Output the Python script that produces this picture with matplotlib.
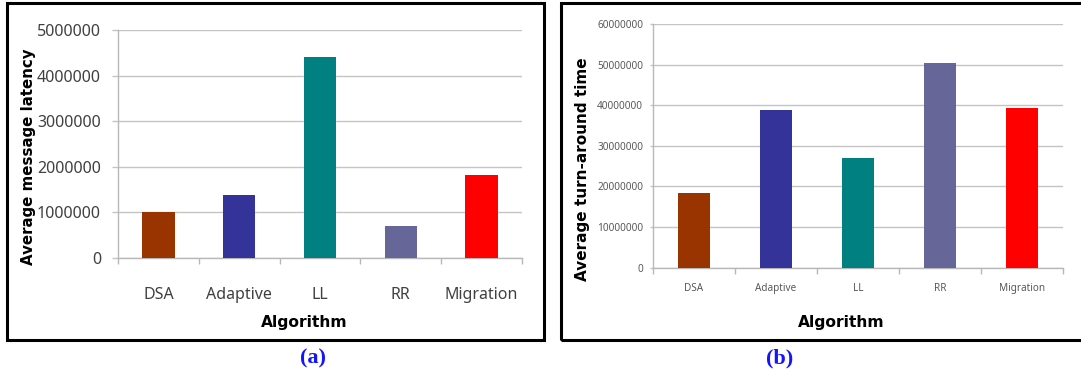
import matplotlib.pyplot as plt
from matplotlib.patches import Rectangle
from matplotlib.ticker import FixedLocator, FuncFormatter

algorithms = ['DSA', 'Adaptive', 'LL', 'RR', 'Migration']
bar_colors = ['#993300', '#333399', '#008080', '#666699', '#ff0000']

msg_latency = [1000000, 1380000, 4410000, 700000, 1810000]
turnaround = [18300000, 38750000, 27100000, 50500000, 39300000]

latency_ticks = [0, 1000000, 2000000, 3000000, 4000000, 5000000]
turnaround_ticks = [0, 10000000, 20000000, 30000000, 40000000, 50000000, 60000000]

W, H = 1081, 372
plt.rcParams['font.family'] = ['Noto Sans', 'DejaVu Sans']
BOLD = ['DejaVu Sans']


def px_box(x0, y0, x1, y1):
    # pixel box (top-left origin) -> figure fraction rect
    return [x0 / W, 1 - y1 / H, (x1 - x0) / W, (y1 - y0) / H]


def bar_panel(ax, values, yticks, tick_size, tick_color, ylen, ypad, xpad):
    x = range(len(values))
    ax.bar(x, values, width=0.4, color=bar_colors, zorder=3)
    ax.set_xlim(-0.5, len(values) - 0.5)
    ax.set_ylim(yticks[0], yticks[-1])
    ax.set_yticks(yticks)
    ax.yaxis.set_major_formatter(FuncFormatter(lambda v, p: '%d' % v))
    ax.grid(axis='y', color='#c4c4c4', lw=1.0, zorder=0)
    for s in ['top', 'right']:
        ax.spines[s].set_visible(False)
    for s in ['left', 'bottom']:
        ax.spines[s].set_color('#b8b8b8')
        ax.spines[s].set_linewidth(1.0)
    ax.set_xticks(list(x))
    ax.set_xticklabels(algorithms)
    ax.xaxis.set_minor_locator(FixedLocator([i - 0.5 for i in range(len(values) + 1)]))
    ax.tick_params(axis='x', which='major', length=0, pad=xpad,
                   labelsize=tick_size, labelcolor=tick_color)
    ax.tick_params(axis='x', which='minor', length=4.5, width=1.0,
                   color='#b8b8b8', direction='out')
    ax.tick_params(axis='y', length=ylen, width=1.0, color='#c4c4c4', pad=ypad,
                   labelsize=tick_size, labelcolor=tick_color)


fig = plt.figure(figsize=(W / 100, H / 100), dpi=100)

# panel (a)
ax1 = fig.add_axes(px_box(118, 30.3, 522, 257.7))
bar_panel(ax1, msg_latency, latency_ticks, 11.5, '#404040', 4.3, 8.0, 21)
fig.text(29 / W, 1 - 157 / H, 'Average message latency', rotation=90,
         ha='center', va='center', fontsize=10.8, fontweight='bold', family=BOLD)
fig.text(304 / W, 1 - 322 / H, 'Algorithm', ha='center', va='center',
         fontsize=11.2, fontweight='bold', family=BOLD)

# panel (b)
ax2 = fig.add_axes(px_box(653, 24, 1063, 267.7))
bar_panel(ax2, turnaround, turnaround_ticks, 7.2, '#595959', 2.5, 4.5, 11)
fig.text(582 / W, 1 - 169 / H, 'Average turn-around time', rotation=90,
         ha='center', va='center', fontsize=11, fontweight='bold', family=BOLD)
fig.text(841 / W, 1 - 322 / H, 'Algorithm', ha='center', va='center',
         fontsize=11.2, fontweight='bold', family=BOLD)

# black frames around both panels
fig.patches.append(Rectangle((7.5 / W, 1 - 339.5 / H), (544 - 7.5) / W, 336.5 / H,
                             transform=fig.transFigure, fill=False,
                             edgecolor='black', lw=2.2))
fig.patches.append(Rectangle((561 / W, 1 - 339.5 / H), (1090 - 561) / W, 336.5 / H,
                             transform=fig.transFigure, fill=False,
                             edgecolor='black', lw=2.2, clip_on=False))

for label, xc in [('(a)', 313), ('(b)', 780)]:
    fig.text(xc / W, 1 - 358 / H, label, ha='center', va='center',
             fontsize=16, fontweight='bold', color='#1414ff',
             family=['Liberation Serif', 'DejaVu Serif'])

fig.savefig('out.png', dpi=100)
